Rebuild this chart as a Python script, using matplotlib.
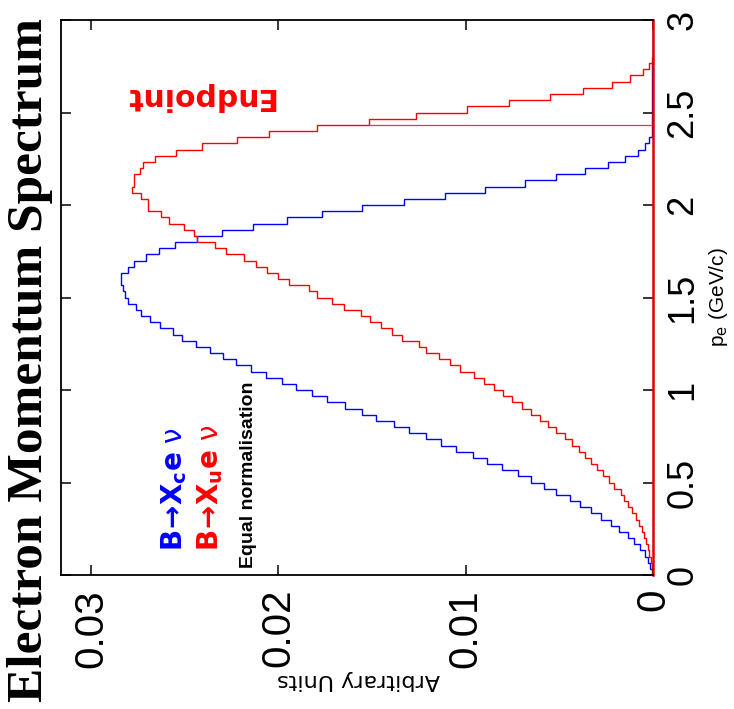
"""
Electron momentum spectrum for B -> Xc e nu and B -> Xu e nu,
drawn as the rotated (landscape-on-its-side) version of the plot.
"""

import numpy as np
import matplotlib
matplotlib.use("Agg")
import matplotlib.pyplot as plt
from matplotlib import font_manager

# ── data ─────────────────────────────────────────────────────
p_lo, p_hi, n_bins = 0.0, 3.0, 90          # p_e binning (GeV/c)

xc_counts = [
    0.00005, 0.00015, 0.00028, 0.00045, 0.00072, 0.00099, 0.00134, 0.00179, 0.00223, 0.00276,
    0.00330, 0.00387, 0.00445, 0.00516, 0.00584, 0.00653, 0.00721, 0.00804, 0.00886, 0.00960,
    0.01053, 0.01130, 0.01213, 0.01302, 0.01382, 0.01480, 0.01553, 0.01645, 0.01738, 0.01820,
    0.01903, 0.01978, 0.02067, 0.02148, 0.02227, 0.02295, 0.02365, 0.02442, 0.02513, 0.02564,
    0.02632, 0.02685, 0.02735, 0.02760, 0.02801, 0.02819, 0.02831, 0.02842, 0.02842, 0.02801,
    0.02769, 0.02708, 0.02637, 0.02552, 0.02436, 0.02303, 0.02134, 0.01956, 0.01766, 0.01553,
    0.01329, 0.01112, 0.00895, 0.00685, 0.00516, 0.00362, 0.00241, 0.00152, 0.00081, 0.00042,
    0.00022, 0.00006, 0.00006, 0.00006, 0.00006, 0.00006, 0.00006, 0.00006, 0.00006, 0.00006,
    0.00006, 0.00006, 0.00006, 0.0, 0.0, 0.0, 0.0, 0.0, 0.0, 0.0,
]

xu_counts = [
    0.00001, 0.00004, 0.00010, 0.00019, 0.00028, 0.00036, 0.00049, 0.00060, 0.00076, 0.00090,
    0.00111, 0.00131, 0.00156, 0.00170, 0.00209, 0.00236, 0.00268, 0.00298, 0.00333, 0.00362,
    0.00396, 0.00433, 0.00469, 0.00520, 0.00561, 0.00605, 0.00650, 0.00700, 0.00750, 0.00800,
    0.00850, 0.00904, 0.00957, 0.01028, 0.01082, 0.01144, 0.01213, 0.01249, 0.01338, 0.01391,
    0.01450, 0.01512, 0.01556, 0.01651, 0.01711, 0.01793, 0.01836, 0.01942, 0.02001, 0.02063,
    0.02120, 0.02182, 0.02280, 0.02339, 0.02436, 0.02451, 0.02504, 0.02584, 0.02628, 0.02694,
    0.02694, 0.02735, 0.02780, 0.02769, 0.02769, 0.02739, 0.02724, 0.02659, 0.02547, 0.02410,
    0.02223, 0.02049, 0.01791, 0.01517, 0.01263, 0.00991, 0.00769, 0.00552, 0.00371, 0.00220,
    0.00125, 0.00051, 0.00022, 0.00004, 0.0, 0.0, 0.0, 0.0, 0.0, 0.0,
]

endpoint_bin = 73                              # b -> u endpoint edge (~2.43 GeV/c)

units_ticks  = [0.0, 0.01, 0.02, 0.03]
units_labels = ["0", "0.01", "0.02", "0.03"]
p_ticks      = [0.0, 0.5, 1.0, 1.5, 2.0, 2.5, 3.0]
p_labels     = ["0", "0.5", "1", "1.5", "2", "2.5", "3"]

# ── figure ───────────────────────────────────────────────────
W, H = 734, 709
fig = plt.figure(figsize=(W / 100, H / 100), dpi=100)


def fx(px):
    return px / W


def fy(py):
    return 1 - py / H


# axes box in pixel coordinates: left 61, right 653, top 20, bottom 575
ax = fig.add_axes([fx(61), fy(575), fx(653 - 61), (575 - 20) / H])

edges = np.linspace(p_lo, p_hi, n_bins + 1)
ax.stairs(xc_counts, edges, orientation="horizontal", color="#0000ff", lw=1.0)
ax.stairs(xu_counts, edges, orientation="horizontal", color="#ff0000", lw=1.0)

# endpoint marker
ax.plot([0, xu_counts[endpoint_bin]], [edges[endpoint_bin]] * 2,
        color="#ff3030", lw=0.9)

ax.set_xlim(0.0316, 0.0)
ax.set_ylim(p_lo, p_hi)

for side in ("left", "top", "bottom"):
    ax.spines[side].set_linewidth(1.3)
ax.spines["right"].set_color("#e00000")
ax.spines["right"].set_linewidth(1.8)

sans = "Liberation Sans"
ax.set_xticks(units_ticks)
ax.set_xticklabels(units_labels, rotation=90, fontsize=29, family=sans)
ax.set_yticks(p_ticks)
ax.set_yticklabels(p_labels, rotation=90, va="center", fontsize=26, family=sans)
ax.yaxis.tick_right()
ax.tick_params(axis="x", direction="in", length=7.5, width=1.1,
               top=True, bottom=True, pad=10)
ax.tick_params(axis="y", direction="in", length=7.5, width=1.1,
               left=True, right=True, labelleft=False, labelright=True, pad=9)
ax.minorticks_off()

# axis titles (centred on their axes)
fig.text(fx(358), fy(680), "Arbitrary Units", rotation=180, fontsize=16,
         ha="center", va="center")
fig.text(fx(719), fy(297), r"p$_{\rm e}$ (GeV/c)", rotation=90, fontsize=15,
         family=sans, ha="center", va="center")

# title
fig.text(fx(30), fy(360), "Electron Momentum Spectrum", rotation=90,
         family="Liberation Serif", weight="bold", fontsize=37,
         ha="center", va="center")

# annotations
fig.text(fx(199), fy(96), "Endpoint", rotation=180, color="#ff0000",
         weight="bold", fontsize=21.5, ha="center", va="center")

fig.text(fx(182), fy(551), r"$\mathbf{B\!\rightarrow\!X_{c}e}$ ν",
         rotation=90, rotation_mode="anchor", color="#0000ff", fontsize=20,
         ha="left", va="baseline")
fig.text(fx(218), fy(551), r"$\mathbf{B\!\rightarrow\!X_{u}e}$ ν",
         rotation=90, rotation_mode="anchor", color="#ff0000", fontsize=20,
         ha="left", va="baseline")

# condensed face for the normalisation note, if one is installed
installed = {f.name for f in font_manager.fontManager.ttflist}
if "Liberation Sans Narrow" in installed:
    note_family, note_size = "Liberation Sans Narrow", 16.5
else:
    note_family, note_size = "Liberation Sans", 14
fig.text(fx(253), fy(568), "Equal normalisation", rotation=90,
         rotation_mode="anchor", family=note_family,
         weight="bold", fontsize=note_size, ha="left", va="baseline")

fig.savefig("out.png", dpi=100)
